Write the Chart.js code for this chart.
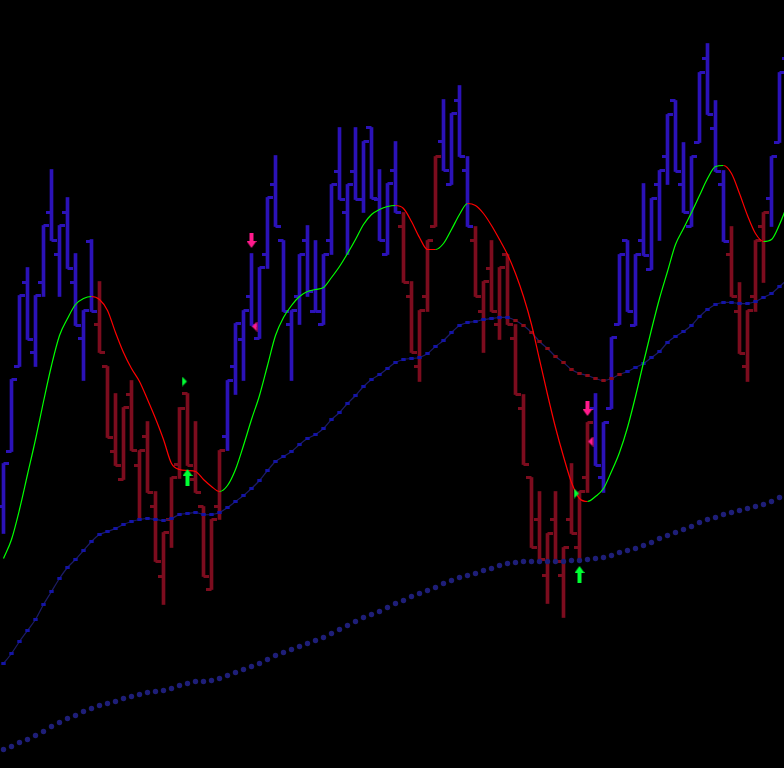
<!DOCTYPE html>
<html>
<head>
<meta charset="utf-8">
<script src="https://cdn.jsdelivr.net/npm/chart.js@4.4.1/dist/chart.umd.min.js"></script>
<style>
html,body{margin:0;padding:0;background:#000;overflow:hidden;}
#wrap{width:784px;height:768px;background:#000;}
</style>
</head>
<body>
<div id="wrap"><canvas id="c" width="784" height="768"></canvas></div>
<script>
// ---- price bars (arbitrary price units) ----
const opens  = [293,348,433,517,447,517,587,545,587,517,461,558,475,433,348,320,405,334,363,293,223,280,335,406,320,293,210,293,363,433,460,503,461,545,615,559,475,503,559,488,475,559,628,587,628,600,672,600,545,629,573,503,433,503,573,658,615,699,629,559,488,531,475,545,461,391,322,280,224,280,224,280,252,322,391,322,391,475,559,474,559,530,615,643,699,615,573,657,741,671,615,545,488,433,503,573,601,657,741];
const highs  = [336,420,504,532,504,574,630,574,602,546,489,560,518,433,406,392,419,349,378,308,267,322,392,406,378,293,280,349,419,476,489,546,532,602,644,559,489,545,574,559,545,615,672,615,672,658,672,630,616,658,587,518,489,559,643,700,686,714,643,573,518,559,532,545,475,405,322,308,266,308,252,336,308,377,406,377,462,545,559,545,616,601,629,685,699,657,643,727,756,699,629,573,517,489,559,587,643,727,750];
const lows   = [266,348,433,460,433,503,559,503,531,474,419,488,447,362,334,320,349,281,307,238,195,252,321,334,307,223,210,280,349,405,419,474,461,531,573,488,419,475,503,488,475,545,600,545,600,587,601,559,545,587,517,447,418,488,573,629,615,643,573,503,447,488,460,475,405,335,252,238,196,238,182,266,238,307,334,307,391,475,488,474,544,530,559,615,628,587,573,657,685,628,558,503,446,418,488,517,573,657,700];
const closes = [336,420,504,460,504,574,559,574,531,474,489,488,447,362,334,392,349,349,307,238,267,322,391,334,307,223,280,349,419,476,489,474,532,602,573,488,489,545,508,488,545,615,600,615,600,658,601,559,616,587,517,447,489,559,643,629,686,643,573,503,518,488,532,475,405,335,252,240,266,238,252,266,308,377,334,377,462,545,488,545,544,601,629,685,628,587,643,727,685,628,558,503,446,489,559,587,643,727,720];
// 1 = bullish trend colour, 0 = bearish trend colour
const barTrend = [1,1,1,1,1,1,1,1,1,1,1,1,0,0,0,0,0,0,0,0,0,0,0,0,0,0,0,0,1,1,1,1,1,1,1,1,1,1,1,1,1,1,1,1,1,1,1,1,1,1,0,0,0,0,0,1,1,1,1,0,0,0,0,0,0,0,0,0,0,0,0,0,0,0,1,1,1,1,1,1,1,1,1,1,1,1,1,1,1,1,1,0,0,0,0,0,1,1,1];

// ---- smoothed trend line ----
const smoothLine = [241,260,290,325,360,398,434,464,481,495,501,503,500,489,467,447,431,418,400,381,360,336,330,329,328,320,313,308,314,330,354,380,404,434,464,482,494,503,508,510,512,522,533,546,560,575,585,590,593,594,591,578,562,550,550,556,570,585,596,594,586,574,560,545,526,503,475,440,405,372,343,317,301,298,303,311,328,347,372,403,437,470,501,528,555,571,587,604,621,633,634,626,606,584,566,558,560,575,595];

// ---- dashed moving average ----
const slowMA = [136,146,158,169,180,195,208,221,232,240,249,258,265,268,271,275,278,280,281,280,279,281,285,286,287,285,285,287,292,298,304,311,319,329,338,343,348,355,361,365,371,380,387,396,404,413,420,425,431,437,440,441,442,446,453,459,467,474,477,478,480,481,482,482,479,474,467,458,451,443,437,430,426,424,421,419,421,425,428,432,436,442,448,457,463,468,474,483,490,495,497,497,496,496,498,502,506,513,520];
const slowMAFalling = [0,0,0,0,0,0,0,0,0,0,0,0,0,0,0,0,0,0,0,0,0,0,0,0,0,0,0,0,0,0,0,0,0,0,0,0,0,0,0,0,0,0,0,0,0,0,0,0,0,0,0,0,0,0,0,0,0,0,0,0,0,0,0,0,1,1,1,1,1,1,1,1,1,1,1,1,1,1,0,0,0,0,0,0,0,0,0,0,0,0,0,0,0,0,0,0,0,0,0];

// ---- long dotted moving average ----
const longMA = [50,53,57,60,64,68,73,77,81,84,88,91,94,96,98,101,103,105,107,108,109,111,114,116,118,118,119,121,124,127,130,133,136,140,144,147,150,153,156,159,162,166,170,174,178,182,185,188,192,196,199,203,206,209,212,216,219,222,224,226,229,231,234,236,237,238,238,238,238,238,238,239,239,240,241,242,244,247,249,251,254,257,261,264,267,270,273,277,280,282,285,287,289,291,293,295,298,302,305];

// ---- signals ----
const buyArrowBars = [23,72],  buyArrowLevels = [322,225];
const sellArrowBars = [31,73], sellArrowLevels = [559,391];
const buyMarkBars = [23,72],   buyMarkLevels = [418,306];
const sellMarkBars = [31,73],  sellMarkLevels = [473,358];

// ---- styling ----
const UP = '#2b12b8', DOWN = '#7c0c1e';
const GREEN = '#00ff00', RED = '#ff0000', PINK = '#ff1a8c', SIG_GREEN = '#00ff33';

function upArrow(color){
  const c=document.createElement('canvas');c.width=10;c.height=17;const g=c.getContext('2d');
  g.fillStyle=color;g.beginPath();g.moveTo(5,0);g.lineTo(10,7);g.lineTo(0,7);g.closePath();g.fill();
  g.fillRect(3,7,4,10);return c;
}
function downArrow(color){
  const c=document.createElement('canvas');c.width=10;c.height=15;const g=c.getContext('2d');
  g.fillStyle=color;g.fillRect(3,0,4,9);
  g.beginPath();g.moveTo(0,8);g.lineTo(10,8);g.lineTo(5,15);g.closePath();g.fill();return c;
}
function rightTri(color){
  const c=document.createElement('canvas');c.width=12;c.height=10;const g=c.getContext('2d');
  g.fillStyle=color;g.beginPath();g.moveTo(0.5,0);g.lineTo(5.5,5);g.lineTo(0.5,10);g.closePath();g.fill();return c;
}
function leftTri(color){
  const c=document.createElement('canvas');c.width=12;c.height=10;const g=c.getContext('2d');
  g.fillStyle=color;g.beginPath();g.moveTo(11.5,0);g.lineTo(6.5,5);g.lineTo(11.5,10);g.closePath();g.fill();return c;
}

const idx = opens.map((_,i)=>i);
const trendColor = barTrend.map(t=>t?UP:DOWN);
const pts = (arr)=>arr.map((v,i)=>({x:i,y:v}));
const sig = (bars,levels)=>bars.map((b,i)=>({x:b,y:levels[i]}));

const datasets = [
  {type:'bar', label:'range', data: idx.map(i=>({x:i,y:[lows[i],highs[i]]})),
   backgroundColor: trendColor, borderWidth:0, barThickness:3, order:10},
  {type:'line', label:'open', data: pts(opens), showLine:false, pointStyle:'dash', rotation:180,
   pointRadius:5.5, pointHoverRadius:5.5, pointBorderWidth:3, pointBorderColor: trendColor, pointBackgroundColor: trendColor, order:9},
  {type:'line', label:'close', data: pts(closes), showLine:false, pointStyle:'dash', rotation:0,
   pointRadius:5.5, pointHoverRadius:5.5, pointBorderWidth:3, pointBorderColor: trendColor, pointBackgroundColor: trendColor, order:9},
  {type:'line', label:'longMA', data: pts(longMA), showLine:false, pointStyle:'circle',
   pointRadius:2.7, pointBorderWidth:0, pointBackgroundColor:'#1e1e78', order:4},
  {type:'line', label:'slowMA', data: pts(slowMA), borderColor:'#1c1c66', borderWidth:1.2, tension:0.3,
   pointStyle:'line', pointRadius:2.2, pointBorderWidth:3,
   pointBorderColor: slowMAFalling.map(f=>f?'#8a0c18':'#1414a6'), order:3},
  {type:'line', label:'smooth', data: pts(smoothLine), borderWidth:1.2, pointRadius:0, cubicInterpolationMode:'monotone',
   borderColor: GREEN,
   segment:{borderColor: ctx => ctx.p1.parsed.y > ctx.p0.parsed.y ? GREEN : RED}, order:2},
  {type:'line', label:'buyArrow', data: sig(buyArrowBars,buyArrowLevels), showLine:false, pointStyle: upArrow(SIG_GREEN), pointRadius:5, order:0},
  {type:'line', label:'sellArrow', data: sig(sellArrowBars,sellArrowLevels), showLine:false, pointStyle: downArrow(PINK), pointRadius:5, order:0},
  {type:'line', label:'buyMark', data: sig(buyMarkBars,buyMarkLevels), showLine:false, pointStyle: rightTri(SIG_GREEN), pointRadius:5, order:0},
  {type:'line', label:'sellMark', data: sig(sellMarkBars,sellMarkLevels), showLine:false, pointStyle: leftTri(PINK), pointRadius:5, order:0}
];

new Chart(document.getElementById('c'), {
  type:'bar',
  data:{datasets},
  options:{
    responsive:false, animation:false, devicePixelRatio:1,
    layout:{padding:0, autoPadding:false},
    plugins:{legend:{display:false}, tooltip:{enabled:false}},
    scales:{
      x:{type:'linear', min:-0.4375, max:97.5625, display:false, offset:false, grid:{display:false}},
      y:{type:'linear', min:31.5, max:799.5, display:false, grid:{display:false}}
    }
  }
});
</script>
</body>
</html>
